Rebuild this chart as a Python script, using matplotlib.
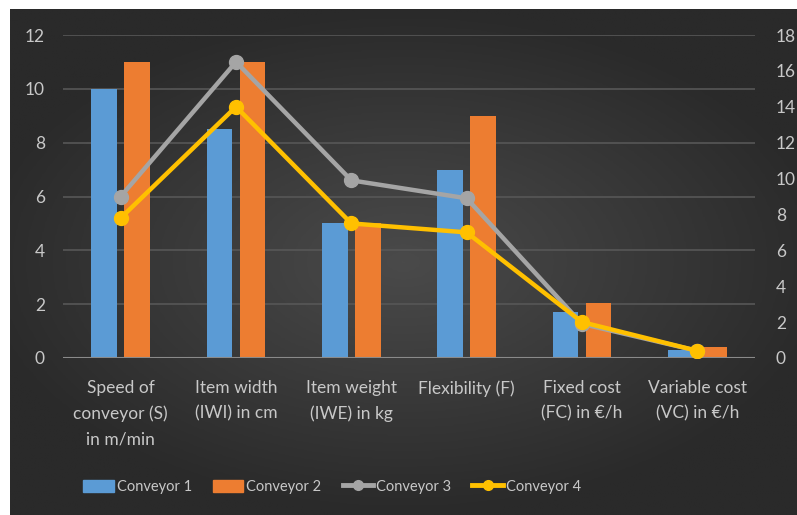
import numpy as np
import matplotlib
matplotlib.use("Agg")
import matplotlib.pyplot as plt
from matplotlib.lines import Line2D
from matplotlib.patches import Patch

plt.rcParams['font.family'] = ['Lato', 'DejaVu Sans']

# ---- data ----
categories = ["Speed of\nconveyor (S)\nin m/min", "Item width\n(IWI) in cm",
              "Item weight\n(IWE) in kg", "Flexibility (F)",
              "Fixed cost\n(FC) in €/h", "Variable cost\n(VC) in €/h"]
conveyor1 = [10, 8.5, 5, 7, 1.7, 0.3]      # bars, left axis
conveyor2 = [11, 11, 5, 9, 2.05, 0.4]      # bars, left axis
conveyor3 = [9, 16.5, 9.9, 8.9, 1.9, 0.4]  # line, right axis
conveyor4 = [7.8, 14.0, 7.5, 7.0, 2.0, 0.4]  # line, right axis
series_names = ["Conveyor 1", "Conveyor 2", "Conveyor 3", "Conveyor 4"]

C_BLUE = "#5b9bd5"
C_ORANGE = "#ed7d31"
C_GRAY = "#a5a5a5"
C_YELLOW = "#ffc000"
TXT = "#c8c8c8"
GRID = "#575757"

W, H = 797, 515
fig = plt.figure(figsize=(W / 100, H / 100), dpi=100)
fig.patch.set_facecolor("white")

# dark radial-gradient background (chart area leaves a thin white strip top/left)
bg = fig.add_axes([10 / W, 0, 1 - 10 / W, 1 - 9 / H])
yy, xx = np.mgrid[-1:1:200j, -1:1:300j]
r = np.sqrt((xx / 1.1) ** 2 + (yy / 1.0) ** 2)
grad = np.clip(1 - r, 0, 1)
bg.imshow(grad, cmap=matplotlib.colors.LinearSegmentedColormap.from_list(
    "bg", ["#2a2a2a", "#3a3a3a", "#4a4a4a"]), aspect="auto", extent=[0, 1, 0, 1])
bg.axis("off")

# plot area: x 63..755 px, y 35..358 px
ax = fig.add_axes([63 / W, 1 - 358 / H, (755 - 63) / W, (358 - 35) / H])
ax.set_facecolor("none")
x = np.arange(len(categories))
bw = 0.225
ax.bar(x - 0.143, conveyor1, bw, color=C_BLUE, zorder=2)
ax.bar(x + 0.143, conveyor2, bw, color=C_ORANGE, zorder=2)
ax.set_xlim(-0.5, len(categories) - 0.5)
ax.set_ylim(0, 12)
ax.set_yticks(range(0, 13, 2))
for y in range(2, 13, 2):
    ax.axhline(y, color=GRID, lw=1.2, zorder=1)
ax.axhline(0, color="#8a8a8a", lw=1.5, zorder=3)
ax.set_xticks(x)
ax.set_xticklabels(categories, color=TXT, fontsize=12.5, linespacing=1.7)
ax.tick_params(axis="x", length=0, pad=16)
ax.tick_params(axis="y", length=0, pad=13, labelcolor=TXT, labelsize=12.5)
for s in ax.spines.values():
    s.set_visible(False)

ax2 = ax.twinx()
ax2.set_ylim(0, 18)
ax2.set_yticks(range(0, 19, 2))
ax2.plot(x, conveyor3, color=C_GRAY, lw=3.2, marker="o", ms=10, zorder=4)
ax2.plot(x, conveyor4, color=C_YELLOW, lw=3.2, marker="o", ms=10, zorder=5)
ax2.tick_params(axis="y", length=0, pad=15, labelcolor=TXT, labelsize=12.5)
for s in ax2.spines.values():
    s.set_visible(False)

handles = [Patch(color=C_BLUE), Patch(color=C_ORANGE),
           Line2D([], [], color=C_GRAY, lw=3.5, marker="o", ms=7),
           Line2D([], [], color=C_YELLOW, lw=3.5, marker="o", ms=7)]
leg = fig.legend(handles, series_names, loc="center left", bbox_to_anchor=(83 / W, 1 - 487 / H),
                 ncol=4, frameon=False, fontsize=10.5, labelcolor=TXT, borderpad=0,
                 borderaxespad=0, handlelength=2.1, handleheight=0.9,
                 handletextpad=0.2, columnspacing=1.45)

fig.savefig("out.png", dpi=100)
